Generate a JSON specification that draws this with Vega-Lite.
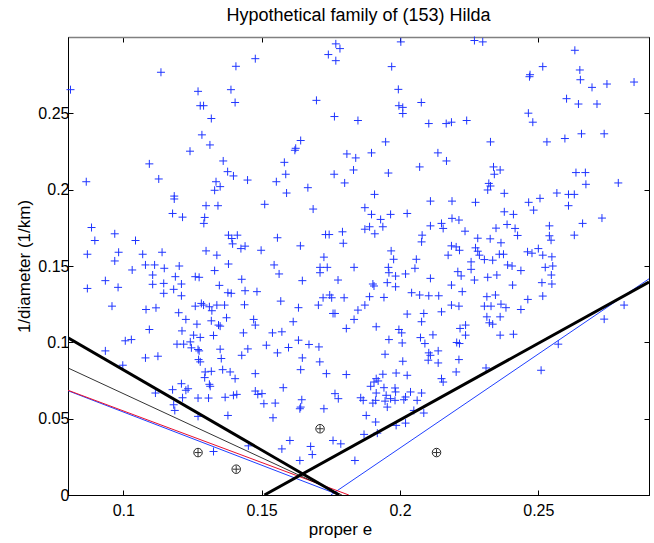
{
  "$schema": "https://vega.github.io/schema/vega-lite/v6.json",
  "width": 581,
  "height": 458,
  "autosize": {"type": "none"},
  "padding": {"left": 68, "top": 37, "right": 5, "bottom": 48},
  "background": "white",
  "title": {"text": "Hypothetical family of (153) Hilda", "fontSize": 18, "fontWeight": "normal", "font": "Liberation Sans", "color": "black", "offset": 10},
  "config": {
    "view": {"stroke": "black", "strokeWidth": 1},
    "font": "Liberation Sans",
    "axis": {"grid": false, "domainColor": "black", "tickColor": "black", "labelColor": "black", "titleColor": "black", "labelFontSize": 16, "titleFontSize": 17, "titleFontWeight": "normal", "tickSize": -5, "labelFont": "Liberation Sans", "titleFont": "Liberation Sans"}
  },
  "datasets": {
    "pts": [
      {"e":0.1477,"invd":0.2858},{"e":0.1407,"invd":0.2808},{"e":0.1136,"invd":0.2769},{"e":0.0809,"invd":0.2655},{"e":0.1270,"invd":0.2644},{"e":0.1389,"invd":0.2655},{"e":0.1404,"invd":0.2571},{"e":0.1278,"invd":0.2550},{"e":0.1290,"invd":0.2550},{"e":0.1318,"invd":0.2466},{"e":0.1284,"invd":0.2359},{"e":0.1313,"invd":0.2293},{"e":0.1241,"invd":0.2252},{"e":0.1094,"invd":0.2169},{"e":0.1361,"invd":0.2188},{"e":0.1377,"invd":0.2118},{"e":0.1398,"invd":0.2090},{"e":0.0866,"invd":0.2052},{"e":0.1128,"invd":0.2070},{"e":0.1449,"invd":0.2063},{"e":0.1335,"invd":0.2052},{"e":0.1350,"invd":0.2020},{"e":0.1330,"invd":0.1996},{"e":0.1184,"invd":0.1958},{"e":0.1184,"invd":0.1939},{"e":0.1299,"invd":0.1895},{"e":0.1342,"invd":0.1895},{"e":0.1178,"invd":0.1844},{"e":0.1214,"invd":0.1820},{"e":0.1294,"invd":0.1818},{"e":0.1291,"invd":0.1779},{"e":0.0885,"invd":0.1752},{"e":0.0969,"invd":0.1711},{"e":0.0897,"invd":0.1667},{"e":0.1044,"invd":0.1667},{"e":0.1380,"invd":0.1702},{"e":0.1412,"invd":0.1702},{"e":0.1392,"invd":0.1680},{"e":0.1395,"invd":0.1645},{"e":0.1425,"invd":0.1614},{"e":0.1440,"invd":0.1630},{"e":0.1498,"invd":0.1603},{"e":0.0870,"invd":0.1577},{"e":0.0983,"invd":0.1590},{"e":0.1070,"invd":0.1577},{"e":0.1140,"invd":0.1590},{"e":0.1299,"invd":0.1599},{"e":0.1338,"invd":0.1571},{"e":0.0969,"invd":0.1533},
      {"e":0.1768,"invd":0.2955},{"e":0.1783,"invd":0.2924},{"e":0.1741,"invd":0.2885},{"e":0.1768,"invd":0.2845},{"e":0.2003,"invd":0.2968},{"e":0.1970,"invd":0.2806},{"e":0.1994,"invd":0.2657},{"e":0.1698,"invd":0.2585},{"e":0.1996,"invd":0.2550},{"e":0.2010,"invd":0.2539},{"e":0.2010,"invd":0.2499},{"e":0.2077,"invd":0.2571},{"e":0.1763,"invd":0.2479},{"e":0.1848,"invd":0.2453},{"e":0.2104,"invd":0.2433},{"e":0.2167,"invd":0.2433},{"e":0.2186,"invd":0.2442},{"e":0.1641,"invd":0.2322},{"e":0.1623,"invd":0.2271},{"e":0.1620,"invd":0.2258},{"e":0.1948,"invd":0.2313},{"e":0.1808,"invd":0.2234},{"e":0.1840,"invd":0.2208},{"e":0.1897,"invd":0.2241},{"e":0.2137,"invd":0.2241},{"e":0.2168,"invd":0.2188},{"e":0.1582,"invd":0.2179},{"e":0.1587,"invd":0.2101},{"e":0.1762,"invd":0.2101},{"e":0.1832,"invd":0.2129},{"e":0.1958,"invd":0.2109},{"e":0.2071,"invd":0.2149},{"e":0.1553,"invd":0.2052},{"e":0.1667,"invd":0.2013},{"e":0.1800,"invd":0.2044},{"e":0.1590,"invd":0.1978},{"e":0.1908,"invd":0.1969},{"e":0.1511,"invd":0.1904},{"e":0.1686,"invd":0.1873},{"e":0.1873,"invd":0.1882},{"e":0.1897,"invd":0.1838},{"e":0.1930,"invd":0.1805},{"e":0.1966,"invd":0.1838},{"e":0.2026,"invd":0.1844},{"e":0.2110,"invd":0.1925},{"e":0.2188,"invd":0.1925},{"e":0.2188,"invd":0.1812},{"e":0.1557,"invd":0.1685},{"e":0.1731,"invd":0.1706},{"e":0.1744,"invd":0.1706},{"e":0.1792,"invd":0.1724},{"e":0.1795,"invd":0.1649},{"e":0.1873,"invd":0.1741},{"e":0.1890,"invd":0.1757},{"e":0.1909,"invd":0.1711},{"e":0.1938,"invd":0.1757},{"e":0.2110,"invd":0.1763},{"e":0.2150,"invd":0.1779},{"e":0.2156,"invd":0.1746},{"e":0.2080,"invd":0.1702},{"e":0.2078,"invd":0.1658},{"e":0.2186,"invd":0.1632},{"e":0.1640,"invd":0.1632},{"e":0.1968,"invd":0.1599},{"e":0.1977,"invd":0.1544},{"e":0.1725,"invd":0.1558},{"e":0.2059,"invd":0.1544},{"e":0.2174,"invd":0.1571},
      {"e":0.2269,"invd":0.2977},{"e":0.2299,"invd":0.2968},{"e":0.2632,"invd":0.2913},{"e":0.2516,"invd":0.2806},{"e":0.2650,"invd":0.2784},{"e":0.2470,"invd":0.2753},{"e":0.2468,"invd":0.2740},{"e":0.2652,"invd":0.2720},{"e":0.2694,"invd":0.2670},{"e":0.2748,"invd":0.2692},{"e":0.2846,"invd":0.2705},{"e":0.2602,"invd":0.2596},{"e":0.2645,"invd":0.2561},{"e":0.2712,"invd":0.2561},{"e":0.2241,"invd":0.2453},{"e":0.2464,"invd":0.2501},{"e":0.2480,"invd":0.2442},{"e":0.2327,"invd":0.2313},{"e":0.2531,"invd":0.2313},{"e":0.2596,"invd":0.2335},{"e":0.2656,"invd":0.2366},{"e":0.2738,"invd":0.2366},{"e":0.2338,"invd":0.2149},{"e":0.2362,"invd":0.2129},{"e":0.2341,"invd":0.2101},{"e":0.2321,"invd":0.2041},{"e":0.2327,"invd":0.2024},{"e":0.2317,"invd":0.1998},{"e":0.2636,"invd":0.2112},{"e":0.2670,"invd":0.2112},{"e":0.2672,"invd":0.2035},{"e":0.2789,"invd":0.2044},{"e":0.2377,"invd":0.1976},{"e":0.2273,"invd":0.1917},{"e":0.2465,"invd":0.1917},{"e":0.2506,"invd":0.1943},{"e":0.2567,"invd":0.1978},{"e":0.2609,"invd":0.1969},{"e":0.2630,"invd":0.1969},{"e":0.2609,"invd":0.1895},{"e":0.2483,"invd":0.1866},{"e":0.2377,"invd":0.1855},{"e":0.2410,"invd":0.1838},{"e":0.2213,"invd":0.1801},{"e":0.2347,"invd":0.1748},{"e":0.2387,"invd":0.1772},{"e":0.2416,"invd":0.1746},{"e":0.2425,"invd":0.1700},{"e":0.2540,"invd":0.1763},{"e":0.2540,"invd":0.1698},{"e":0.2546,"invd":0.1669},{"e":0.2630,"invd":0.1702},{"e":0.2660,"invd":0.1779},{"e":0.2730,"invd":0.1814},{"e":0.2235,"invd":0.1728},{"e":0.2281,"invd":0.1682},{"e":0.2326,"invd":0.1678},{"e":0.2365,"invd":0.1652},{"e":0.2203,"invd":0.1625},{"e":0.2215,"invd":0.1603},{"e":0.2273,"invd":0.1619},{"e":0.2281,"invd":0.1597},{"e":0.2287,"invd":0.1571},{"e":0.2305,"invd":0.1542},{"e":0.2335,"invd":0.1538},{"e":0.2359,"invd":0.1577},{"e":0.2374,"invd":0.1577},{"e":0.2461,"invd":0.1593},{"e":0.2477,"invd":0.1584},{"e":0.2500,"invd":0.1614},{"e":0.2516,"invd":0.1571},{"e":0.2549,"invd":0.1560},{"e":0.2257,"invd":0.1527},
      {"e":0.1032,"invd":0.1474},{"e":0.1080,"invd":0.1507},{"e":0.1113,"invd":0.1507},{"e":0.1148,"invd":0.1485},{"e":0.1202,"invd":0.1500},{"e":0.1330,"invd":0.1470},{"e":0.1380,"invd":0.1513},{"e":0.1106,"invd":0.1441},{"e":0.1188,"invd":0.1430},{"e":0.1260,"invd":0.1430},{"e":0.1274,"invd":0.1426},{"e":0.1428,"invd":0.1413},{"e":0.0935,"invd":0.1404},{"e":0.0870,"invd":0.1353},{"e":0.0981,"invd":0.1360},{"e":0.1106,"invd":0.1380},{"e":0.1146,"invd":0.1386},{"e":0.1210,"invd":0.1382},{"e":0.1347,"invd":0.1373},{"e":0.1146,"invd":0.1321},{"e":0.1182,"invd":0.1347},{"e":0.1210,"invd":0.1305},{"e":0.1378,"invd":0.1325},{"e":0.1390,"invd":0.1321},{"e":0.1440,"invd":0.1338},{"e":0.1483,"invd":0.1332},{"e":0.0959,"invd":0.1237},{"e":0.1082,"invd":0.1215},{"e":0.1118,"invd":0.1226},{"e":0.1200,"invd":0.1194},{"e":0.1260,"invd":0.1237},{"e":0.1282,"invd":0.1255},{"e":0.1290,"invd":0.1244},{"e":0.1311,"invd":0.1233},{"e":0.1320,"invd":0.1207},{"e":0.1338,"invd":0.1244},{"e":0.1366,"invd":0.1244},{"e":0.1438,"invd":0.1246},{"e":0.1226,"invd":0.1150},{"e":0.1266,"invd":0.1119},{"e":0.1318,"invd":0.1141},{"e":0.1344,"invd":0.1113},{"e":0.1350,"invd":0.1106},{"e":0.1373,"invd":0.1161},{"e":0.1471,"invd":0.1150},{"e":0.1477,"invd":0.1113},{"e":0.1094,"invd":0.1084},{"e":0.1212,"invd":0.1075},{"e":0.1254,"invd":0.1047},{"e":0.1278,"invd":0.1032},{"e":0.1326,"invd":0.1045},{"e":0.1434,"invd":0.1062},{"e":0.1007,"invd":0.1010},{"e":0.1029,"invd":0.1018},{"e":0.1194,"invd":0.0988},{"e":0.1218,"invd":0.0988},{"e":0.1242,"invd":0.1003},{"e":0.1246,"invd":0.0964},{"e":0.1270,"invd":0.0953},{"e":0.1274,"invd":0.0944},{"e":0.1350,"invd":0.0955},{"e":0.1354,"invd":0.0894},{"e":0.1450,"invd":0.0957},{"e":0.1428,"invd":0.0915},{"e":0.0935,"invd":0.0944},{"e":0.1080,"invd":0.0898},{"e":0.1125,"invd":0.0909},{"e":0.1272,"invd":0.0887},{"e":0.1278,"invd":0.0872},{"e":0.0998,"invd":0.0850},{"e":0.1296,"invd":0.0806},{"e":0.1318,"invd":0.0810},{"e":0.1294,"invd":0.0769},{"e":0.1359,"invd":0.0821},{"e":0.1386,"invd":0.0806},{"e":0.1404,"invd":0.0762},{"e":0.1477,"invd":0.0795},{"e":0.1311,"invd":0.0725},{"e":0.1314,"invd":0.0712},{"e":0.1210,"invd":0.0729},{"e":0.1234,"invd":0.0696},{"e":0.1226,"invd":0.0686},{"e":0.1178,"invd":0.0690},{"e":0.1116,"invd":0.0668},{"e":0.1214,"invd":0.0637},{"e":0.1270,"invd":0.0635},{"e":0.1308,"invd":0.0635},{"e":0.1368,"invd":0.0640},{"e":0.1398,"invd":0.0653},{"e":0.1410,"invd":0.0659},{"e":0.1477,"invd":0.0681},{"e":0.1486,"invd":0.0659},{"e":0.1182,"invd":0.0591},{"e":0.1186,"invd":0.0554},{"e":0.1270,"invd":0.0515},{"e":0.1378,"invd":0.0521},{"e":0.1452,"invd":0.0322},{"e":0.1326,"invd":0.0285},
      {"e":0.1545,"invd":0.1507},{"e":0.1563,"invd":0.1448},{"e":0.1711,"invd":0.1491},{"e":0.1737,"invd":0.1491},{"e":0.1711,"invd":0.1456},{"e":0.1834,"invd":0.1491},{"e":0.1958,"invd":0.1491},{"e":0.1960,"invd":0.1456},{"e":0.1984,"invd":0.1434},{"e":0.2020,"invd":0.1448},{"e":0.2054,"invd":0.1485},{"e":0.2110,"invd":0.1419},{"e":0.1647,"invd":0.1404},{"e":0.1776,"invd":0.1408},{"e":0.1902,"invd":0.1382},{"e":0.1906,"invd":0.1369},{"e":0.1954,"invd":0.1391},{"e":0.1984,"invd":0.1364},{"e":0.2186,"invd":0.1375},{"e":0.1746,"invd":0.1310},{"e":0.1722,"invd":0.1292},{"e":0.1753,"invd":0.1292},{"e":0.1798,"invd":0.1292},{"e":0.1705,"invd":0.1244},{"e":0.1890,"invd":0.1299},{"e":0.1942,"invd":0.1294},{"e":0.2042,"invd":0.1325},{"e":0.2071,"invd":0.1310},{"e":0.2104,"invd":0.1305},{"e":0.2140,"invd":0.1305},{"e":0.1569,"invd":0.1270},{"e":0.1633,"invd":0.1227},{"e":0.1758,"invd":0.1189},{"e":0.1765,"invd":0.1189},{"e":0.1848,"invd":0.1211},{"e":0.1873,"invd":0.1244},{"e":0.2026,"invd":0.1185},{"e":0.2086,"invd":0.1189},{"e":0.2150,"invd":0.1200},{"e":0.2186,"invd":0.1244},{"e":0.1614,"invd":0.1135},{"e":0.1834,"invd":0.1150},{"e":0.2078,"invd":0.1135},{"e":0.1914,"invd":0.1102},{"e":0.1806,"invd":0.1091},{"e":0.1996,"invd":0.1084},{"e":0.2006,"invd":0.1062},{"e":0.1539,"invd":0.1062},{"e":0.1573,"invd":0.1069},{"e":0.1633,"invd":0.1014},{"e":0.1517,"invd":0.0981},{"e":0.1597,"invd":0.0966},{"e":0.1671,"invd":0.0986},{"e":0.1707,"invd":0.0970},{"e":0.1960,"invd":0.1018},{"e":0.2008,"invd":0.0996},{"e":0.2074,"invd":0.1031},{"e":0.2090,"invd":0.0992},{"e":0.2119,"invd":0.1049},{"e":0.1557,"invd":0.0931},{"e":0.1647,"invd":0.0898},{"e":0.1710,"invd":0.0872},{"e":0.1946,"invd":0.0922},{"e":0.2010,"invd":0.0876},{"e":0.2104,"invd":0.0931},{"e":0.2110,"invd":0.0915},{"e":0.2138,"invd":0.0944},{"e":0.2102,"invd":0.0883},{"e":0.2138,"invd":0.0865},{"e":0.1641,"invd":0.0821},{"e":0.1734,"invd":0.0795},{"e":0.1806,"invd":0.0789},{"e":0.1986,"invd":0.0799},{"e":0.2026,"invd":0.0784},{"e":0.2150,"invd":0.0762},{"e":0.2156,"invd":0.0740},{"e":0.1914,"invd":0.0762},{"e":0.1938,"invd":0.0791},{"e":0.1906,"invd":0.0740},{"e":0.1921,"invd":0.0747},{"e":0.1894,"invd":0.0712},{"e":0.1942,"invd":0.0703},{"e":0.1982,"invd":0.0701},{"e":0.1984,"invd":0.0675},{"e":0.2038,"invd":0.0675},{"e":0.2078,"invd":0.0668},{"e":0.1914,"invd":0.0668},{"e":0.1950,"invd":0.0653},{"e":0.1578,"invd":0.0703},{"e":0.1765,"invd":0.0664},{"e":0.1777,"invd":0.0631},{"e":0.1501,"invd":0.0664},{"e":0.1858,"invd":0.0637},{"e":0.1867,"invd":0.0620},{"e":0.1645,"invd":0.0624},{"e":0.1641,"invd":0.0576},{"e":0.1638,"invd":0.0565},{"e":0.1549,"invd":0.0602},{"e":0.1508,"invd":0.0598},{"e":0.1725,"invd":0.0565},{"e":0.1902,"invd":0.0602},{"e":0.1912,"invd":0.0620},{"e":0.1946,"invd":0.0615},{"e":0.1966,"invd":0.0631},{"e":0.1982,"invd":0.0620},{"e":0.2020,"invd":0.0642},{"e":0.2014,"invd":0.0624},{"e":0.2062,"invd":0.0620},{"e":0.1954,"invd":0.0576},{"e":0.2050,"invd":0.0554},{"e":0.2086,"invd":0.0537},{"e":0.1541,"invd":0.0506},{"e":0.1878,"invd":0.0521},{"e":0.1912,"invd":0.0478},{"e":0.1986,"invd":0.0456},{"e":0.2020,"invd":0.0471},{"e":0.1870,"invd":0.0397},{"e":0.1918,"invd":0.0405},{"e":0.1602,"invd":0.0357},{"e":0.1573,"invd":0.0302},{"e":0.1677,"invd":0.0318},{"e":0.1683,"invd":0.0265},{"e":0.1758,"invd":0.0357},{"e":0.1786,"invd":0.0335},{"e":0.1638,"invd":0.0226},{"e":0.1837,"invd":0.0226},
      {"e":0.2209,"invd":0.1463},{"e":0.2221,"invd":0.1435},{"e":0.2257,"invd":0.1478},{"e":0.2269,"invd":0.1408},{"e":0.2317,"invd":0.1426},{"e":0.2350,"invd":0.1441},{"e":0.2389,"invd":0.1507},{"e":0.2405,"invd":0.1500},{"e":0.2437,"invd":0.1470},{"e":0.2407,"invd":0.1375},{"e":0.2513,"invd":0.1391},{"e":0.2525,"invd":0.1491},{"e":0.2552,"invd":0.1500},{"e":0.2547,"invd":0.1441},{"e":0.2549,"invd":0.1382},{"e":0.2516,"invd":0.1303},{"e":0.2225,"invd":0.1332},{"e":0.2314,"invd":0.1299},{"e":0.2345,"invd":0.1310},{"e":0.2305,"invd":0.1237},{"e":0.2329,"invd":0.1237},{"e":0.2365,"invd":0.1250},{"e":0.2383,"invd":0.1227},{"e":0.2213,"invd":0.1237},{"e":0.2314,"invd":0.1167},{"e":0.2362,"invd":0.1167},{"e":0.2323,"invd":0.1128},{"e":0.2335,"invd":0.1119},{"e":0.2462,"invd":0.1281},{"e":0.2437,"invd":0.1215},{"e":0.2217,"invd":0.1091},{"e":0.2237,"invd":0.1113},{"e":0.2237,"invd":0.1047},{"e":0.2362,"invd":0.1047},{"e":0.2410,"invd":0.1053},{"e":0.2205,"invd":0.0999},{"e":0.2215,"invd":0.0992},{"e":0.2213,"invd":0.0887},{"e":0.2203,"invd":0.0806},{"e":0.2311,"invd":0.0832},{"e":0.2510,"invd":0.0817},{"e":0.2572,"invd":0.0988},{"e":0.2738,"invd":0.1152},{"e":0.2810,"invd":0.1244}
    ],
    "circ": [
      {"e":0.1270,"invd":0.0278},{"e":0.1408,"invd":0.0169},{"e":0.1711,"invd":0.0434},{"e":0.2132,"invd":0.0278}
    ],
    "lines": [
      {"line":"blue_l","e":0.08,"invd":0.0683},{"line":"blue_l","e":0.178,"invd":0},
      {"line":"blue_r","e":0.175,"invd":0},{"line":"blue_r","e":0.29,"invd":0.1416},
      {"line":"red","e":0.08,"invd":0.0686},{"line":"red","e":0.1815,"invd":0},
      {"line":"thin","e":0.08,"invd":0.0832},{"line":"thin","e":0.179,"invd":0},
      {"line":"thick_l","e":0.08,"invd":0.103},{"line":"thick_l","e":0.178,"invd":0},
      {"line":"thick_r","e":0.151,"invd":0},{"line":"thick_r","e":0.29,"invd":0.1395}
    ]
  },
  "resolve": {"axis": {"x": "independent", "y": "independent"}},
  "layer": [
    {
      "data": {"name": "pts"},
      "mark": {"type": "point", "shape": "M-1,0L1,0M0,-1L0,1", "size": 64, "filled": false, "stroke": "#1f35ff", "strokeWidth": 1, "opacity": 1},
      "encoding": {
        "x": {"field": "e", "type": "quantitative", "scale": {"domain": [0.08, 0.29], "nice": false, "zero": false},
              "axis": {"orient": "bottom", "values": [0.1, 0.15, 0.2, 0.25], "format": "~g", "title": "proper e", "labelPadding": 12, "titlePadding": 3, "titleX": 272}},
        "y": {"field": "invd", "type": "quantitative", "scale": {"domain": [0, 0.3], "nice": false},
              "axis": {"orient": "left", "values": [0, 0.05, 0.1, 0.15, 0.2, 0.25], "format": "~g", "title": "1/diameter (1/km)", "labelPadding": 4, "titlePadding": 4}}
      }
    },
    {
      "data": {"name": "circ"},
      "mark": {"type": "point", "shape": "circle", "size": 72, "filled": false, "stroke": "#222", "strokeWidth": 1, "opacity": 1},
      "encoding": {
        "x": {"field": "e", "type": "quantitative",
              "axis": {"orient": "top", "values": [0.1, 0.15, 0.2, 0.25], "labels": false, "title": null, "domainColor": "#808080", "domainWidth": 1.5}},
        "y": {"field": "invd", "type": "quantitative",
              "axis": {"orient": "right", "values": [0, 0.05, 0.1, 0.15, 0.2, 0.25], "labels": false, "title": null}}
      }
    },
    {
      "data": {"name": "circ"},
      "mark": {"type": "point", "shape": "M-1,0L1,0M0,-1L0,1", "size": 48, "filled": false, "stroke": "#333", "strokeWidth": 1, "opacity": 1},
      "encoding": {
        "x": {"field": "e", "type": "quantitative", "axis": null},
        "y": {"field": "invd", "type": "quantitative", "axis": null}
      }
    },
    {
      "data": {"name": "lines"},
      "transform": [{"filter": "indexof(['blue_l','blue_r'], datum.line) >= 0"}],
      "mark": {"type": "line", "color": "#2040ff", "strokeWidth": 1, "clip": true},
      "encoding": {
        "x": {"field": "e", "type": "quantitative", "axis": null},
        "y": {"field": "invd", "type": "quantitative", "axis": null},
        "detail": {"field": "line"}
      }
    },
    {
      "data": {"name": "lines"},
      "transform": [{"filter": "datum.line == 'red'"}],
      "mark": {"type": "line", "color": "#e8102e", "strokeWidth": 1, "clip": true},
      "encoding": {
        "x": {"field": "e", "type": "quantitative", "axis": null},
        "y": {"field": "invd", "type": "quantitative", "axis": null}
      }
    },
    {
      "data": {"name": "lines"},
      "transform": [{"filter": "datum.line == 'thin'"}],
      "mark": {"type": "line", "color": "black", "strokeWidth": 0.8, "clip": true},
      "encoding": {
        "x": {"field": "e", "type": "quantitative", "axis": null},
        "y": {"field": "invd", "type": "quantitative", "axis": null}
      }
    },
    {
      "data": {"name": "lines"},
      "transform": [{"filter": "indexof(['thick_l','thick_r'], datum.line) >= 0"}],
      "mark": {"type": "line", "color": "black", "strokeWidth": 3, "clip": true},
      "encoding": {
        "x": {"field": "e", "type": "quantitative", "axis": null},
        "y": {"field": "invd", "type": "quantitative", "axis": null},
        "detail": {"field": "line"}
      }
    }
  ]
}
